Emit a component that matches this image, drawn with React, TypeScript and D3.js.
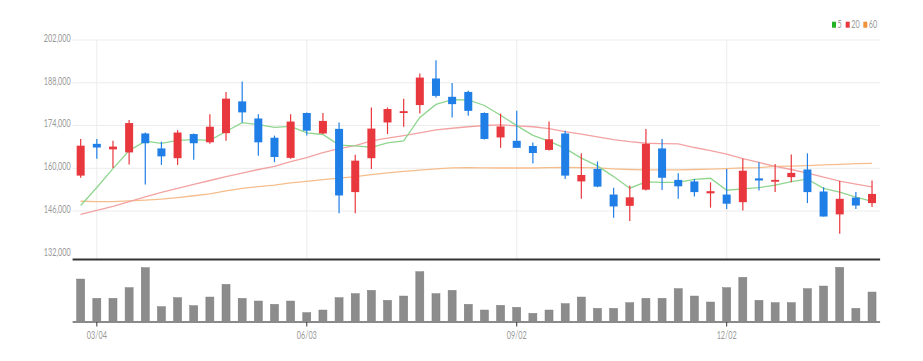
import React from "react";
import * as d3 from "d3";

const opens = [157600,168000,166200,165200,171400,166500,163300,171200,168500,171500,181900,176300,170000,163400,178100,171400,172900,152200,163300,175000,178100,180700,189400,183400,185000,178100,170100,169000,167300,166000,171400,155700,159800,151400,147700,153000,166500,156200,155700,151800,151400,148900,156700,155600,157100,159600,152400,144900,150400,148600];
const highs = [169600,169600,169000,175800,171700,168700,172500,171400,177700,185000,188400,177700,170700,177700,178300,178100,175000,164400,179900,179900,182800,191000,195400,187900,185400,178300,177900,178800,168400,175300,172300,164900,162200,153600,154400,172900,169600,158400,156500,155400,159800,163100,162000,161400,164500,164900,153800,155800,152200,156000];
const lows = [156900,163100,160100,161200,154700,161100,161100,162800,168000,169000,175000,164100,162000,163100,170700,171200,145300,145300,159800,171200,173600,177900,183200,176600,177200,169400,166700,166700,161600,165800,156500,150000,153800,143800,142700,152700,152900,150000,150800,147100,146700,146200,152700,152200,155400,148600,144200,138600,146700,147300];
const closes = [167400,166800,167100,174800,168200,163900,171700,168200,173600,182800,178300,168500,163700,175300,172300,175500,151100,162500,173000,179400,178700,189700,183700,181000,178800,169600,173700,166700,165000,169500,157600,157800,154000,147500,150500,168000,156900,154100,152200,152500,148400,159200,156000,156200,158500,152200,144200,150000,147800,151600];
const ma5 = [147800,153700,159900,165800,168860,168160,169140,169360,169120,172040,174920,174280,173380,173720,171620,171060,167580,167340,166880,168300,168940,176660,180900,182500,182380,180560,177360,173960,170760,168900,166500,163320,160780,157280,153480,155560,155380,155400,156340,156740,152820,153280,153660,154460,155660,156420,153420,152220,150540,149160];
const ma20 = [144900,146200,147500,149100,150600,152100,153400,154700,156000,157300,158400,159600,160600,162200,163500,165100,166400,167400,169000,169900,170700,171600,172600,173100,173600,174000,174200,173900,173600,173000,172000,171200,170300,169400,168700,168200,168100,168000,166800,165800,164600,163200,161900,160600,159600,158400,157100,155800,154800,153900];
const ma60 = [149200,149100,149100,149300,149600,149900,150400,151000,151600,152600,153400,154000,154500,155200,155700,156300,156800,157300,157900,158500,159000,159400,159800,160100,160200,160100,160100,160100,160100,160200,160300,160200,160100,159800,159600,159500,159500,159500,159600,159700,159900,160100,160200,160600,160700,160900,161100,161300,161500,161600];
const volumes = [128,70,70,102,162,45,72,48,74,112,70,62,52,62,27,35,72,84,94,64,77,150,84,94,52,35,49,43,25,35,54,74,40,40,57,70,70,99,77,59,102,133,64,57,57,99,107,163,40,89];
const yTicks = [132000,146000,160000,174000,188000,202000];
const xTickIndex = [1,14,27,40];
const xTickLabels = ["03/04","06/03","09/02","12/02"];
const legendNames = ["5","20","60"];

const UP = "#e8383e";
const DOWN = "#1f7fe6";
const MA_COLORS = ["#8fd68f","#f3a2a2","#f6bd8c"];
const LEGEND_COLORS = ["#22b322","#e8383e","#f0903a"];

export default function App() {
  const W = 923, H = 361;
  const left = 72.6, right = 880.1;
  const idx = d3.range(opens.length);
  const x = d3.scaleBand<number>().domain(idx).range([left, right]).padding(0);
  const cx = (i: number) => (x(i) as number) + x.bandwidth() / 2;
  const y = d3.scaleLinear().domain([132000, 202000]).range([253.8, 40]);
  const yv = d3.scaleLinear().domain([0, 163]).range([321.7, 267.4]);
  const bw = 8;
  const line = d3.line<number>().x((_, i) => cx(i)).y((d) => y(d));
  const font = "Lato, 'Open Sans', sans-serif";

  return (
    <svg width={W} height={H} style={{ position: "absolute", left: 0, top: 0, background: "#fff" }} fontFamily={font}>
      {yTicks.map((t) => (
        <g key={t}>
          {t !== 132000 && <line x1={left} x2={right} y1={y(t)} y2={y(t)} stroke="#ececec" strokeWidth={1} />}
          <text transform={`translate(70.7,${y(t) - 1}) scale(0.66,1)`} textAnchor="end" dominantBaseline="middle" fontSize={11} fill="#999">
            {d3.format(",")(t)}
          </text>
        </g>
      ))}
      {xTickIndex.map((i) => (
        <line key={i} x1={cx(i)} x2={cx(i)} y1={40} y2={259} stroke="#ececec" strokeWidth={1} />
      ))}
      {[ma60, ma20, ma5].map((m, k) => (
        <path key={k} d={line(m) || ""} fill="none" stroke={MA_COLORS[2 - k]} strokeWidth={1.3} />
      ))}
      {idx.map((i) => {
        const up = closes[i] >= opens[i];
        const c = up ? UP : DOWN;
        const top = y(Math.max(opens[i], closes[i]));
        const bot = y(Math.min(opens[i], closes[i]));
        return (
          <g key={i}>
            <line x1={cx(i)} x2={cx(i)} y1={y(highs[i])} y2={y(lows[i])} stroke={c} strokeWidth={1.2} />
            <rect x={cx(i) - bw / 2} y={top} width={bw} height={Math.max(1.5, bot - top)} fill={c} />
          </g>
        );
      })}
      <line x1={left} x2={right} y1={259.5} y2={259.5} stroke="#333" strokeWidth={2} />
      {idx.map((i) => (
        <rect key={i} x={cx(i) - bw / 2} y={yv(volumes[i])} width={bw} height={yv(0) - yv(volumes[i])} fill="#8c8c8c" stroke="#7a7a7a" strokeWidth={0.5} />
      ))}
      <line x1={left} x2={right} y1={322} y2={322} stroke="#8a8a8a" strokeWidth={2} />
      {xTickIndex.map((i, k) => (
        <g key={i}>
          <line x1={cx(i)} x2={cx(i)} y1={322} y2={326.5} stroke="#333" strokeWidth={1} />
          <text transform={`translate(${cx(i)},${336}) scale(0.66,1)`} textAnchor="middle" dominantBaseline="middle" fontSize={11} fill="#999">
            {xTickLabels[k]}
          </text>
        </g>
      ))}
      {legendNames.map((n, k) => {
        const xs = [832, 845.7, 863.3][k];
        return (
          <g key={n}>
            <rect x={xs} y={21.7} width={4} height={6} fill={LEGEND_COLORS[k]} />
            <text transform={`translate(${xs + 5.5},${24.8}) scale(0.66,1)`} dominantBaseline="middle" fontSize={11} fill="#999">
              {n}
            </text>
          </g>
        );
      })}
    </svg>
  );
}
